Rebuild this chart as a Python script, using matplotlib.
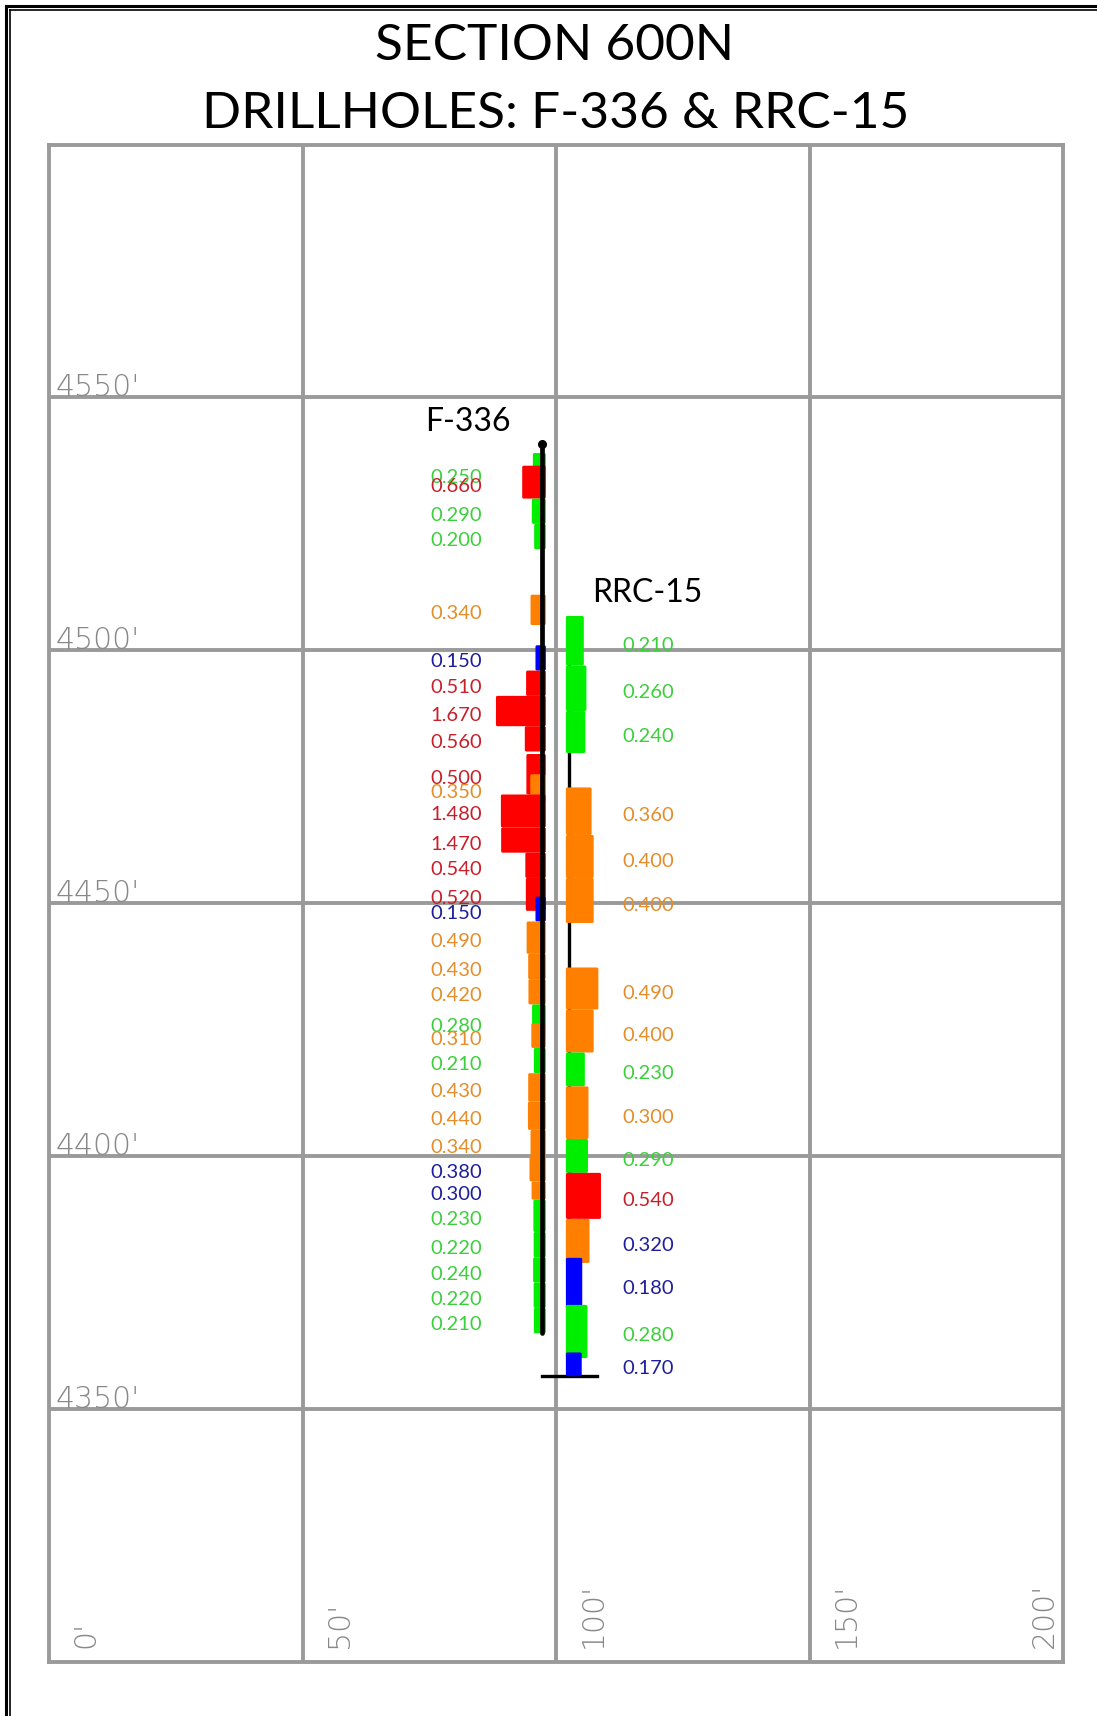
import matplotlib
matplotlib.use("Agg")
import matplotlib.pyplot as plt
from matplotlib.patches import FancyBboxPatch
from matplotlib.lines import Line2D

# ---------------- data ----------------
title_lines = ["SECTION 600N", "DRILLHOLES: F-336 & RRC-15"]
x_ticks = [0, 50, 100, 150, 200]
x_tick_labels = ["0'", "50'", "100'", "150'", "200'"]
y_ticks = [4350, 4400, 4450, 4500, 4550]
y_tick_labels = ["4350'", "4400'", "4450'", "4500'", "4550'"]

# F-336 drillhole
f336_name = "F-336"
f336_x = 97.2
f336_collar = 4540.8
f336_end = 4365.0
f336_top = [4539, 4536.5, 4530, 4525, 4511, 4501, 4496, 4491, 4485, 4479.5, 4475.5,
            4471.5, 4465, 4460, 4455, 4451.3, 4446.4, 4440, 4435, 4430, 4426.3,
            4421.4, 4416.4, 4410.8, 4405.2, 4400, 4395, 4391.4, 4385, 4380, 4375, 4370]
f336_bot = [4531, 4530, 4525, 4520, 4505, 4496, 4491, 4485, 4480, 4471.5, 4470,
            4465, 4460, 4455, 4448.5, 4446.4, 4440, 4435, 4430, 4423, 4421.4,
            4416.4, 4410.8, 4405.2, 4400, 4395, 4391.4, 4385, 4380, 4375, 4370, 4365]
f336_grade = [0.250, 0.660, 0.290, 0.200, 0.340, 0.150, 0.510, 1.670, 0.560, 0.500, 0.350,
              1.480, 1.470, 0.540, 0.520, 0.150, 0.490, 0.430, 0.420, 0.280, 0.310,
              0.210, 0.430, 0.440, 0.340, 0.380, 0.300, 0.230, 0.220, 0.240, 0.220, 0.210]
f336_label_grp = ["g", "r", "g", "g", "o", "b", "r", "r", "r", "r", "o",
                  "r", "r", "r", "r", "b", "o", "o", "o", "g", "o",
                  "g", "o", "o", "o", "b", "b", "g", "g", "g", "g", "g"]

# RRC-15 drillhole
rrc_name = "RRC-15"
rrc_x = 102.6
rrc_collar = 4506.8
rrc_end = 4356.5
rrc_top = [4506.8, 4497, 4488, 4472.9, 4463.5, 4455, 4437.3, 4429, 4420.5, 4413.8,
           4403.4, 4396.7, 4387.6, 4379.9, 4370.6, 4361.2]
rrc_bot = [4497, 4488, 4479.7, 4463.5, 4455, 4446.1, 4429, 4420.5, 4413.8, 4403.4,
           4396.7, 4387.6, 4378.9, 4369.7, 4360.1, 4356.5]
rrc_grade = [0.210, 0.260, 0.240, 0.360, 0.400, 0.400, 0.490, 0.400, 0.230, 0.300,
             0.290, 0.540, 0.320, 0.180, 0.280, 0.170]
rrc_label_grp = ["g", "g", "g", "o", "o", "o", "o", "o", "g", "o",
                 "g", "r", "b", "b", "g", "b"]

# ---------------- style ----------------
BAR_COL = {"b": "#0000ff", "g": "#00ee00", "o": "#ff7f00", "r": "#ff0000"}
TXT_COL = {"b": "#1e1e9c", "g": "#3ccf3c", "o": "#e58d2a", "r": "#c8202a"}
GRID_COL = "#9a9a9a"
LABEL_GRAY = "#888888"


def grade_class(g):
    if g < 0.2:
        return "b"
    if g < 0.3:
        return "g"
    if g < 0.5:
        return "o"
    return "r"


W, H = 1097, 1716
fig = plt.figure(figsize=(W / 100, H / 100), dpi=100)
fig.patch.set_facecolor("white")

ax = fig.add_axes([49 / W, 1 - 1662 / H, (1063 - 49) / W, (1662 - 144.5) / H])
ax.set_xlim(0, 200)
ax.set_ylim(4300, 4600)
ax.set_xticks([50, 100, 150])
ax.set_yticks(y_ticks)
ax.tick_params(length=0, labelbottom=False, labelleft=False)
ax.grid(True, color=GRID_COL, linewidth=2.8, zorder=0.5)
ax.set_axisbelow(True)
for sp in ax.spines.values():
    sp.set_color(GRID_COL)
    sp.set_linewidth(2.8)

# axis labels (gray)
for yv, lab in zip(y_ticks, y_tick_labels):
    ax.text(1.2, yv + 0.3, lab, color=LABEL_GRAY, fontsize=21.5, family="DejaVu Sans",
            fontweight="light", ha="left", va="baseline", zorder=1)
for xv, lab in zip(x_ticks, x_tick_labels):
    off = 7.3 if xv < 200 else -3.7
    ax.text(xv + off, 4302.8, lab, color=LABEL_GRAY, fontsize=21.5, family="DejaVu Sans",
            fontweight="light", rotation=90, ha="center", va="bottom", zorder=1)


def draw_bar(x0, top, bot, width, color):
    p = FancyBboxPatch((x0, bot), width, top - bot,
                       boxstyle="round,pad=0,rounding_size=0.3",
                       facecolor=color, edgecolor="none", zorder=3)
    ax.add_patch(p)


LABEL_FS = 14.5
LABEL_FONT = ["Lato", "DejaVu Sans"]

# RRC-15 trace (under its bars)
ax.plot([rrc_x, rrc_x], [rrc_collar, rrc_end], color="black", lw=2.4, zorder=2,
        solid_capstyle="butt")
ax.plot([rrc_x - 5.4, rrc_x + 5.4], [rrc_end, rrc_end], color="black", lw=2.4, zorder=2)
for t, b, g, lg in zip(rrc_top, rrc_bot, rrc_grade, rrc_label_grp):
    w = 1.38 + 10.26 * g
    draw_bar(rrc_x - 0.65, t, b, w, BAR_COL[grade_class(g)])
    ax.text(113.0, (t + b) / 2 - 0.9, f"{g:.3f}", color=TXT_COL[lg], fontsize=LABEL_FS,
            family=LABEL_FONT, ha="left", va="center", zorder=4)

# F-336 bars and trace
for t, b, g, lg in zip(f336_top, f336_bot, f336_grade, f336_label_grp):
    w = 1.28 + 5.13 * g
    draw_bar(f336_x + 0.8 - w, t, b, w, BAR_COL[grade_class(g)])
    ax.text(85.4, (t + b) / 2 - 0.8, f"{g:.3f}", color=TXT_COL[lg], fontsize=LABEL_FS,
            family=LABEL_FONT, ha="right", va="center", zorder=4)
ax.plot([f336_x, f336_x], [f336_collar, f336_end], color="black", lw=3.4, zorder=5,
        solid_capstyle="round")
ax.plot([f336_x], [f336_collar], marker="o", ms=5.5, color="black", zorder=5)

# hole names
ax.text(74.2, 4545.2, f336_name, fontsize=23, family=LABEL_FONT, color="black",
        ha="left", va="center", zorder=6)
ax.text(107.1, 4511.4, rrc_name, fontsize=23, family=LABEL_FONT, color="black",
        ha="left", va="center", zorder=6)

# title
fig.text(555 / W, 1 - 60 / H, title_lines[0], fontsize=37, family=LABEL_FONT,
         color="black", ha="center", va="baseline")
fig.text(556 / W, 1 - 128 / H, title_lines[1], fontsize=37, family=LABEL_FONT,
         color="black", ha="center", va="baseline")

# outer double frame (left and top)
fig.add_artist(Line2D([6 / W, 6 / W], [0, 1 - 5.7 / H], transform=fig.transFigure,
                      color="black", lw=2.2))
fig.add_artist(Line2D([10.2 / W, 10.2 / W], [0, 1 - 10 / H], transform=fig.transFigure,
                      color="black", lw=1.2))
fig.add_artist(Line2D([6 / W, 1], [1 - 5.7 / H, 1 - 5.7 / H], transform=fig.transFigure,
                      color="black", lw=2.2))
fig.add_artist(Line2D([10.2 / W, 1], [1 - 10 / H, 1 - 10 / H], transform=fig.transFigure,
                      color="black", lw=1.2))

fig.savefig("out.png", dpi=100)
